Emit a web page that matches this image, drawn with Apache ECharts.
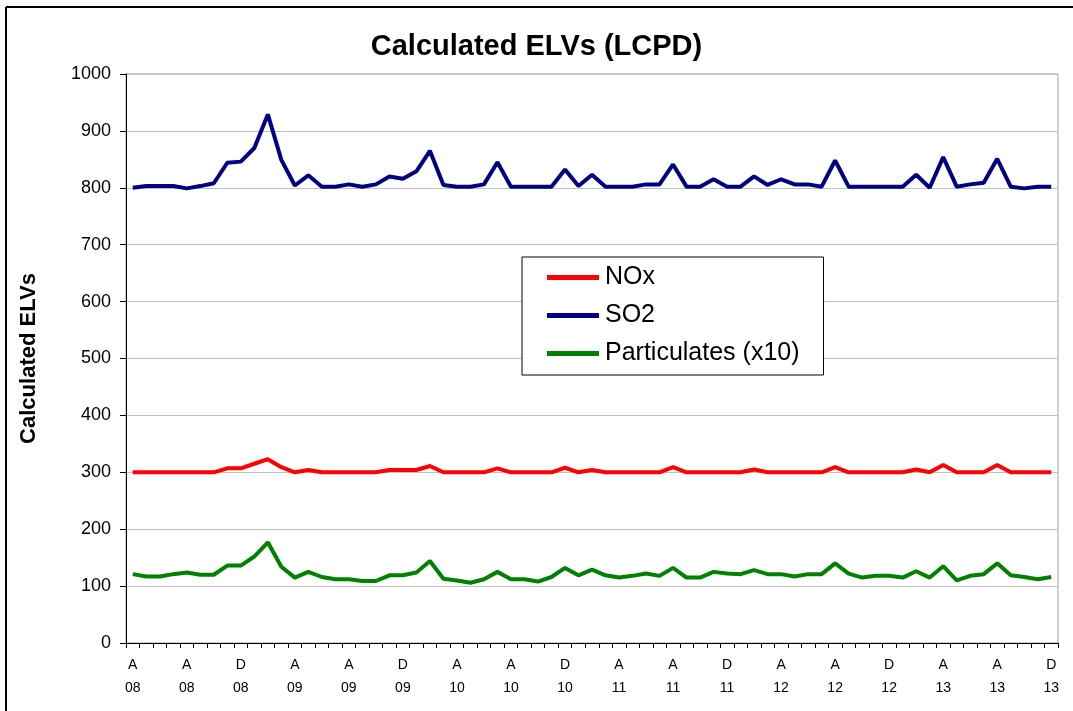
<!DOCTYPE html>
<html>
<head>
<meta charset="utf-8">
<script src="https://cdn.jsdelivr.net/npm/echarts@6/dist/echarts.min.js"></script>
<style>
html,body{margin:0;padding:0;background:#fff;}
#chart{width:1073px;height:711px;}
</style>
</head>
<body>
<div id="chart"></div>
<script>
var categories = [
 'Apr 08','May 08','Jun 08','Jul 08','Aug 08','Sep 08','Oct 08','Nov 08','Dec 08',
 'Jan 09','Feb 09','Mar 09','Apr 09','May 09','Jun 09','Jul 09','Aug 09','Sep 09','Oct 09','Nov 09','Dec 09',
 'Jan 10','Feb 10','Mar 10','Apr 10','May 10','Jun 10','Jul 10','Aug 10','Sep 10','Oct 10','Nov 10','Dec 10',
 'Jan 11','Feb 11','Mar 11','Apr 11','May 11','Jun 11','Jul 11','Aug 11','Sep 11','Oct 11','Nov 11','Dec 11',
 'Jan 12','Feb 12','Mar 12','Apr 12','May 12','Jun 12','Jul 12','Aug 12','Sep 12','Oct 12','Nov 12','Dec 12',
 'Jan 13','Feb 13','Mar 13','Apr 13','May 13','Jun 13','Jul 13','Aug 13','Sep 13','Oct 13','Nov 13','Dec 13'
];
var seriesNames = ['NOx', 'SO2', 'Particulates (x10)'];
var noxValues = [300,300,300,300,300,300,300,307,307,315,323,309,300,304,300,300,300,300,300,304,304,304,311,300,300,300,300,307,300,300,300,300,308,300,304,300,300,300,300,300,309,300,300,300,300,300,305,300,300,300,300,300,309,300,300,300,300,300,305,300,313,300,300,300,313,300,300,300,300];
var so2Values = [800,803,803,803,799,803,808,844,846,870,929,849,804,822,802,802,806,802,806,820,816,829,865,805,802,802,806,845,802,802,802,802,832,803,823,802,802,802,806,806,841,802,802,815,802,802,820,805,815,806,806,802,848,802,802,802,802,802,823,800,854,802,806,809,851,802,799,802,802];
var particulateValues = [121,117,117,121,124,120,120,136,136,152,177,134,115,125,116,112,112,109,109,119,119,124,144,113,110,106,112,125,112,112,108,116,132,119,129,119,115,118,122,118,132,115,115,125,122,121,128,121,121,117,121,121,140,122,115,118,118,115,126,115,135,110,118,121,140,119,116,112,116];
var yTicks = {min: 0, max: 1000, interval: 100};
var titleText = 'Calculated ELVs (LCPD)';
var yAxisTitle = 'Calculated ELVs';

var FONT = '"Liberation Sans", Arial, sans-serif';
var chart = echarts.init(document.getElementById('chart'), null, {renderer: 'canvas'});
chart.setOption({
  backgroundColor: '#ffffff',
  animation: false,
  graphic: [
    {type: 'line', silent: true, z: 100, shape: {x1: 6, y1: 7, x2: 1200, y2: 7},
     style: {stroke: '#000', lineWidth: 2}},
    {type: 'line', silent: true, z: 100, shape: {x1: 6, y1: 7, x2: 6, y2: 800},
     style: {stroke: '#000', lineWidth: 2}}
  ],
  title: {
    text: titleText, left: 'center', top: 32, padding: 0,
    textStyle: {fontFamily: FONT, fontSize: 29, fontWeight: 'bold', color: '#000'}
  },
  legend: {
    orient: 'vertical', left: 522, top: 257,
    padding: [8, 24, 9, 25], itemGap: 13,
    itemWidth: 52, itemHeight: 5,
    borderColor: '#000', borderWidth: 1, backgroundColor: '#fff',
    data: seriesNames.map(function (n) { return {name: n, icon: 'rect'}; }),
    textStyle: {fontFamily: FONT, fontSize: 25, color: '#000', padding: [0,0,0,1]}
  },
  grid: {
    left: 126, top: 74, width: 932, height: 569,
    show: true, borderColor: '#a0a0a0', borderWidth: 1, containLabel: false
  },
  xAxis: {
    type: 'category', data: categories, boundaryGap: true,
    axisLine: {show: true, onZero: false, lineStyle: {color: '#000', width: 1}},
    axisTick: {show: true, interval: 0, length: 5, lineStyle: {color: '#000'}},
    axisLabel: {
      interval: 3, margin: 11, color: '#000', fontFamily: FONT, fontSize: 14, lineHeight: 23,
      formatter: function (v) { var p = v.split(' '); return p[0].charAt(0) + '\n' + p[1]; }
    },
    splitLine: {show: false}
  },
  yAxis: {
    type: 'value', min: yTicks.min, max: yTicks.max, interval: yTicks.interval,
    name: yAxisTitle, nameLocation: 'middle', nameGap: 86,
    nameTextStyle: {fontFamily: FONT, fontSize: 22, fontWeight: 'bold', color: '#000'},
    axisLine: {show: true, lineStyle: {color: '#000', width: 1}},
    axisTick: {show: true, length: 6, lineStyle: {color: '#000'}},
    axisLabel: {margin: 15, color: '#000', fontFamily: FONT, fontSize: 18,
      formatter: function (v) { return String(v); }},
    splitLine: {show: true, lineStyle: {color: '#c0c0c0', width: 1}}
  },
  series: [
    {name: seriesNames[0], type: 'line', data: noxValues, symbol: 'none', color: '#ff0000',
     lineStyle: {width: 4, color: '#ff0000'}, itemStyle: {color: '#ff0000'}, z: 3},
    {name: seriesNames[1], type: 'line', data: so2Values, symbol: 'none', color: '#000080',
     lineStyle: {width: 4, color: '#000080'}, itemStyle: {color: '#000080'}, z: 3},
    {name: seriesNames[2], type: 'line', data: particulateValues, symbol: 'none', color: '#008000',
     lineStyle: {width: 4, color: '#008000'}, itemStyle: {color: '#008000'}, z: 3}
  ]
});
</script>
</body>
</html>
